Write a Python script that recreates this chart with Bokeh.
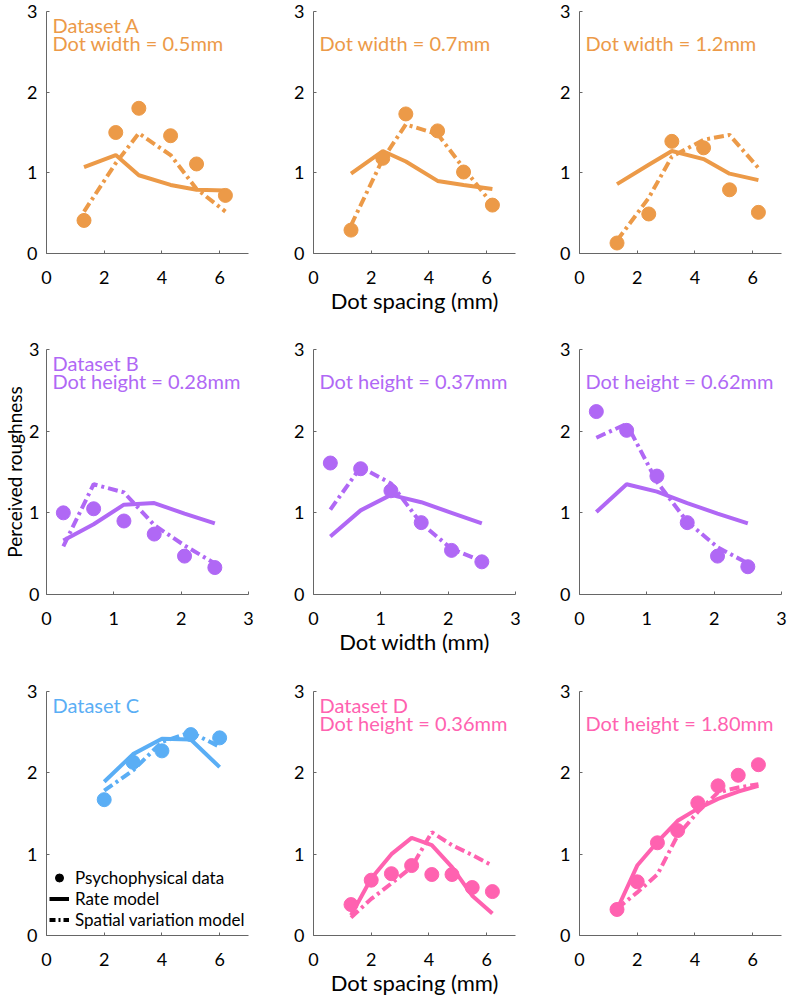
from bokeh.plotting import figure
from bokeh.layouts import column, row
from bokeh.models import Range1d, Label, Legend, LegendItem, FixedTicker
from bokeh.embed import file_html
from bokeh.resources import INLINE

FONT = "Lato"

ORANGE = "#EC9A48"
PURPLE = "#B068F5"
BLUE = "#5AAEF5"
PINK = "#FF62B0"

# ---- Dataset A (x: dot spacing, mm) ----
A_x = [1.3, 2.4, 3.2, 4.3, 5.2, 6.2]
A1_data = [0.41, 1.50, 1.80, 1.46, 1.11, 0.72]
A1_rate = [1.07, 1.22, 0.97, 0.85, 0.79, 0.78]
A1_spatial = [0.52, 1.12, 1.49, 1.22, 0.80, 0.52]
A2_data = [0.29, 1.18, 1.73, 1.52, 1.01, 0.60]
A2_rate = [0.99, 1.27, 1.14, 0.90, 0.85, 0.80]
A2_spatial = [0.35, 1.17, 1.60, 1.48, 1.06, 0.61]
A3_data = [0.13, 0.49, 1.39, 1.31, 0.79, 0.51]
A3_rate = [0.86, 1.10, 1.27, 1.17, 0.99, 0.91]
A3_spatial = [0.16, 0.69, 1.20, 1.41, 1.47, 1.06]

# ---- Dataset B (x: dot width, mm) ----
B_x = [0.25, 0.7, 1.15, 1.6, 2.05, 2.5]
B1_data = [1.00, 1.05, 0.90, 0.74, 0.47, 0.33]
B1_rate = [0.66, 0.86, 1.10, 1.12, 0.99, 0.87]
B1_spatial = [0.59, 1.35, 1.25, 0.85, 0.60, 0.38]
B2_data = [1.61, 1.54, 1.27, 0.88, 0.54, 0.40]
B2_rate = [0.71, 1.03, 1.22, 1.13, 1.00, 0.87]
B2_spatial = [1.04, 1.56, 1.36, 0.87, 0.56, 0.41]
B3_data = [2.24, 2.01, 1.45, 0.88, 0.47, 0.34]
B3_rate = [1.01, 1.35, 1.26, 1.12, 0.99, 0.87]
B3_spatial = [1.92, 2.09, 1.38, 0.89, 0.58, 0.38]

# ---- Dataset C ----
C_x = [2, 3, 4, 5, 6]
C_data = [1.67, 2.13, 2.27, 2.47, 2.43]
C_rate = [1.89, 2.23, 2.42, 2.41, 2.07]
C_spatial = [1.78, 2.03, 2.38, 2.50, 2.32]

# ---- Dataset D ----
D_x = [1.3, 2.0, 2.7, 3.4, 4.1, 4.8, 5.5, 6.2]
D1_data = [0.38, 0.68, 0.76, 0.86, 0.75, 0.75, 0.59, 0.54]
D1_rate = [0.25, 0.70, 1.00, 1.20, 1.11, 0.84, 0.49, 0.27]
D1_spatial = [0.22, 0.45, 0.64, 0.84, 1.27, 1.11, 0.99, 0.86]
D2_data = [0.32, 0.66, 1.14, 1.29, 1.63, 1.84, 1.97, 2.10]
D2_rate = [0.32, 0.86, 1.15, 1.41, 1.56, 1.68, 1.77, 1.84]
D2_spatial = [0.33, 0.53, 0.75, 1.23, 1.52, 1.76, 1.82, 1.86]

Y_TICKS = [0, 1, 2, 3]
X_TICKS_SPACING = [0, 2, 4, 6]
X_TICKS_WIDTH = [0, 1, 2, 3]

LEGEND_LABELS = ["Psychophysical data", "Rate model", "Spatial variation model"]

DASH = "10 4 3 4"

COLS = [(267, 46, 19), (267, 46, 19), (253, 45, 6)]
ROWS = [(338, 11, 85), (342, 11, 86), (318, 11, 63)]

NAN = float("nan")


def panel(ci, ri, x, data, rate, spatial, color, titles, xmax, xticks,
          xlabel=None, ylabel=None, legend=False, first_line=False):
    w, bl, br = COLS[ci]
    h, bt, bb = ROWS[ri]
    p = figure(width=w, height=h, x_range=Range1d(0, xmax), y_range=Range1d(0, 3),
               output_backend="svg", toolbar_location=None,
               min_border_left=bl, min_border_right=br,
               min_border_top=bt, min_border_bottom=bb)
    p.outline_line_color = None
    p.grid.visible = False
    p.background_fill_color = "white"
    p.border_fill_color = "white"
    for ax, ticks in ((p.xaxis[0], xticks), (p.yaxis[0], Y_TICKS)):
        ax.ticker = FixedTicker(ticks=ticks)
        ax.axis_line_color = "#666666"
        ax.major_tick_line_color = "#666666"
        ax.major_tick_in = 3
        ax.major_tick_out = 0
        ax.minor_tick_line_color = None
        ax.major_label_text_font = FONT
        ax.major_label_text_font_size = "18px"
        ax.major_label_text_color = "black"
        ax.axis_label_text_font = FONT
        ax.axis_label_text_font_size = "22px"
        ax.axis_label_text_font_style = "normal"
        ax.axis_label_text_color = "black"
        ax.axis_label_standoff = 0
    p.xaxis.major_label_standoff = 17
    p.yaxis.major_label_standoff = 9
    if xlabel:
        p.xaxis.axis_label = xlabel
    if ylabel:
        p.yaxis.axis_label = ylabel
        p.yaxis.axis_label_text_font_size = "19px"
        p.yaxis.major_label_standoff = 7

    p.line(x, rate, line_color=color, line_width=4)
    p.line(x, spatial, line_color=color, line_width=4, line_dash=DASH)
    p.scatter(x, data, size=14, color=color)

    offsets = [-13, -31]
    if len(titles) == 1 and not first_line:
        offsets = [-31]
    for t, off in zip(titles, offsets):
        p.add_layout(Label(x=0, y=3, x_offset=6, y_offset=off, text=t,
                           text_font=FONT, text_font_size="20px",
                           text_color=color, text_baseline="alphabetic"))

    if legend:
        r1 = p.scatter(x=[NAN], y=[NAN], size=10, color="black")
        r2 = p.line(x=[NAN, NAN], y=[NAN, NAN], line_color="black", line_width=4)
        r3 = p.line(x=[NAN, NAN], y=[NAN, NAN], line_color="black", line_width=4,
                    line_dash="6 3 2 3")
        lg = Legend(items=[LegendItem(label=LEGEND_LABELS[0], renderers=[r1]),
                           LegendItem(label=LEGEND_LABELS[1], renderers=[r2]),
                           LegendItem(label=LEGEND_LABELS[2], renderers=[r3])],
                    location=(3, 5))
        lg.label_text_font = FONT
        lg.label_text_font_size = "17px"
        lg.label_text_color = "black"
        lg.glyph_width = 20
        lg.glyph_height = 21
        lg.label_height = 21
        lg.spacing = 0
        lg.padding = 0
        lg.margin = 0
        lg.label_standoff = 6
        lg.background_fill_alpha = 0
        lg.border_line_alpha = 0
        p.add_layout(lg)
    return p


p11 = panel(0, 0, A_x, A1_data, A1_rate, A1_spatial, ORANGE,
            ["Dataset A", "Dot width = 0.5mm"], 7, X_TICKS_SPACING)
p12 = panel(1, 0, A_x, A2_data, A2_rate, A2_spatial, ORANGE,
            ["Dot width = 0.7mm"], 7, X_TICKS_SPACING, xlabel="Dot spacing (mm)")
p13 = panel(2, 0, A_x, A3_data, A3_rate, A3_spatial, ORANGE,
            ["Dot width = 1.2mm"], 7, X_TICKS_SPACING)

p21 = panel(0, 1, B_x, B1_data, B1_rate, B1_spatial, PURPLE,
            ["Dataset B", "Dot height = 0.28mm"], 3, X_TICKS_WIDTH,
            ylabel="Perceived roughness")
p22 = panel(1, 1, B_x, B2_data, B2_rate, B2_spatial, PURPLE,
            ["Dot height = 0.37mm"], 3, X_TICKS_WIDTH, xlabel="Dot width (mm)")
p23 = panel(2, 1, B_x, B3_data, B3_rate, B3_spatial, PURPLE,
            ["Dot height = 0.62mm"], 3, X_TICKS_WIDTH)

p31 = panel(0, 2, C_x, C_data, C_rate, C_spatial, BLUE,
            ["Dataset C"], 7, X_TICKS_SPACING, legend=True, first_line=True)
p32 = panel(1, 2, D_x, D1_data, D1_rate, D1_spatial, PINK,
            ["Dataset D", "Dot height = 0.36mm"], 7, X_TICKS_SPACING,
            xlabel="Dot spacing (mm)")
p33 = panel(2, 2, D_x, D2_data, D2_rate, D2_spatial, PINK,
            ["Dot height = 1.80mm"], 7, X_TICKS_SPACING)

layout = column(row(p11, p12, p13), row(p21, p22, p23), row(p31, p32, p33))

open("out.html", "w").write(file_html(layout, INLINE))
